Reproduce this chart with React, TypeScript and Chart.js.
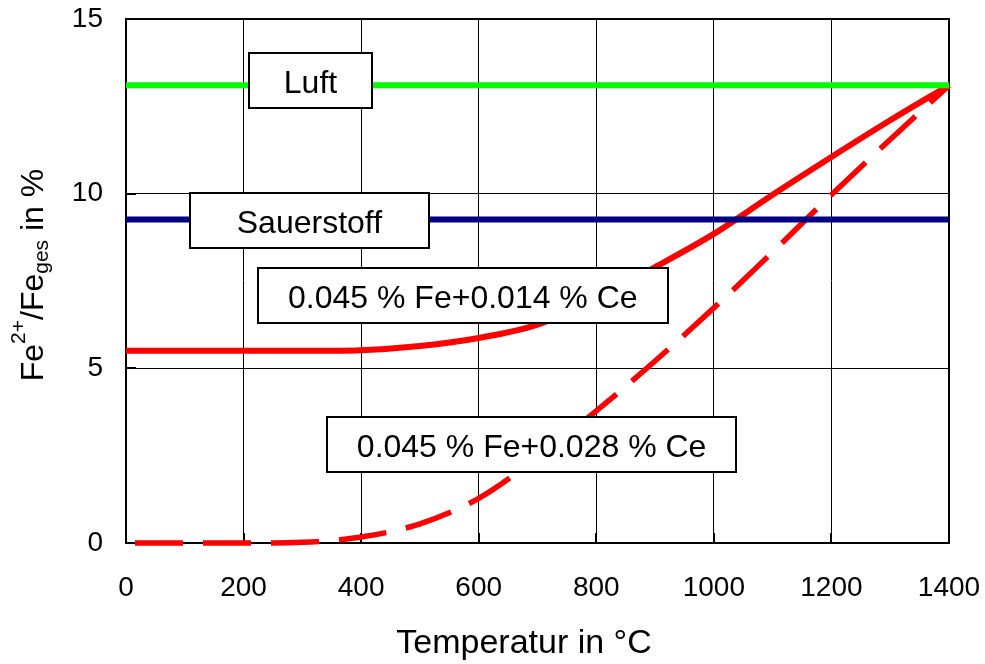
import React, { useEffect, useRef } from "react";
import { Chart, registerables } from "chart.js";

Chart.register(...registerables);

// ---- Data ----
const temperatures = [0, 100, 200, 300, 400, 500, 600, 700, 800, 900, 1000, 1100, 1200, 1300, 1400];
const ce014 = [5.5, 5.5, 5.5, 5.5, 5.52, 5.64, 5.87, 6.25, 7.0, 7.9, 8.85, 9.97, 11.05, 12.1, 13.1];
const ce028 = [0, 0, 0, 0.02, 0.17, 0.55, 1.28, 2.45, 3.78, 5.21, 6.73, 8.33, 9.97, 11.55, 13.1];
const luftTemps = [0, 1400];
const luftValues = [13.1, 13.1];
const sauerstoffTemps = [0, 1400];
const sauerstoffValues = [9.26, 9.26];
const xTickLabels = ["0", "200", "400", "600", "800", "1000", "1200", "1400"];
const yTickLabels = ["0", "5", "10", "15"];
const boxTexts = ["Luft", "Sauerstoff", "0.045 % Fe+0.014 % Ce", "0.045 % Fe+0.028 % Ce"];
const xTitle = "Temperatur in °C";

const FONT = "'Liberation Sans', Arial, Helvetica, sans-serif";

// Box placement (centre in data coordinates, size in px)
const boxLayout = [
  { t: 313.8, v: 13.25, w: 123, h: 55 },
  { t: 312, v: 9.24, w: 239, h: 55 },
  { t: 573, v: 7.09, w: 410, h: 55 },
  { t: 690, v: 2.83, w: 409, h: 55 },
];

const toPts = (xs: number[], ys: number[]) => xs.map((x, i) => ({ x, y: ys[i] }));

const overlay = {
  id: "overlay",
  beforeDatasetsDraw(chart: any) {
    const { ctx, chartArea: a, scales } = chart;
    ctx.save();
    ctx.strokeStyle = "#000";
    ctx.lineWidth = 2;
    ctx.beginPath();
    ctx.moveTo(a.left, a.top);
    ctx.lineTo(a.right, a.top);
    ctx.lineTo(a.right, a.bottom);
    ctx.stroke();
    ctx.beginPath();
    for (const t of scales.x.ticks) {
      const px = Math.round(scales.x.getPixelForValue(t.value));
      ctx.moveTo(px, a.bottom);
      ctx.lineTo(px, a.bottom - 10);
    }
    for (const t of scales.y.ticks) {
      const py = Math.round(scales.y.getPixelForValue(t.value));
      ctx.moveTo(a.left, py);
      ctx.lineTo(a.left + 10, py);
    }
    ctx.stroke();
    ctx.restore();
  },
  afterDraw(chart: any) {
    const { ctx, scales } = chart;
    ctx.save();
    boxLayout.forEach((b, i) => {
      const cx = scales.x.getPixelForValue(b.t);
      const cy = scales.y.getPixelForValue(b.v);
      const x0 = Math.round(cx - b.w / 2);
      const y0 = Math.round(cy - b.h / 2);
      ctx.fillStyle = "#fff";
      ctx.fillRect(x0, y0, b.w, b.h);
      ctx.strokeStyle = "#000";
      ctx.lineWidth = 2;
      ctx.strokeRect(x0, y0, b.w, b.h);
      ctx.fillStyle = "#000";
      ctx.font = `32px ${FONT}`;
      ctx.textAlign = "center";
      ctx.textBaseline = "alphabetic";
      ctx.fillText(boxTexts[i], cx, cy + (0.716 * 32) / 2 + 1);
    });

    ctx.fillStyle = "#000";
    ctx.font = `34px ${FONT}`;
    ctx.textAlign = "center";
    ctx.textBaseline = "alphabetic";
    ctx.fillText(xTitle, 524, 653);

    const parts = [
      { s: "Fe", size: 32, dy: 0 },
      { s: "2+", size: 21, dy: -18 },
      { s: "/Fe", size: 32, dy: 0 },
      { s: "ges", size: 21, dy: 5 },
      { s: " in %", size: 32, dy: 0 },
    ];
    let total = 0;
    const widths = parts.map((p) => {
      ctx.font = `${p.size}px ${FONT}`;
      const w = ctx.measureText(p.s).width;
      total += w;
      return w;
    });
    ctx.translate(43.3, 275);
    ctx.rotate(-Math.PI / 2);
    ctx.textAlign = "left";
    let x = -total / 2;
    parts.forEach((p, i) => {
      ctx.font = `${p.size}px ${FONT}`;
      ctx.fillText(p.s, x, p.dy);
      x += widths[i];
    });
    ctx.restore();
  },
};

export default function App() {
  const ref = useRef<HTMLCanvasElement>(null);

  useEffect(() => {
    if (!ref.current) return;
    const chart = new Chart(ref.current, {
      type: "line",
      data: {
        datasets: [
          {
            label: "Luft",
            data: toPts(luftTemps, luftValues),
            borderColor: "#00FF00",
            borderWidth: 6,
            pointRadius: 0,
            clip: false,
          },
          {
            label: "Sauerstoff",
            data: toPts(sauerstoffTemps, sauerstoffValues),
            borderColor: "#000080",
            borderWidth: 6,
            pointRadius: 0,
            clip: false,
          },
          {
            label: "0.045 % Fe+0.014 % Ce",
            data: toPts(temperatures, ce014),
            borderColor: "#FF0000",
            borderWidth: 6,
            pointRadius: 0,
            cubicInterpolationMode: "monotone",
            clip: false,
          },
          {
            label: "0.045 % Fe+0.028 % Ce",
            data: toPts(temperatures, ce028),
            borderColor: "#FF0000",
            borderWidth: 5.5,
            borderDash: [48, 20],
            borderDashOffset: 59,
            borderCapStyle: "butt",
            pointRadius: 0,
            cubicInterpolationMode: "monotone",
            clip: false,
          },
        ] as any,
      },
      options: {
        responsive: false,
        animation: false,
        devicePixelRatio: 1,
        layout: { padding: { top: 19, right: 36, left: 0, bottom: 0 } },
        plugins: { legend: { display: false }, tooltip: { enabled: false } },
        scales: {
          x: {
            type: "linear",
            min: 0,
            max: 1400,
            afterFit: (s: any) => {
              s.height = 121;
              s.paddingLeft = 0;
              s.paddingRight = 0;
            },
            grid: { color: "#000", lineWidth: 1, drawTicks: false },
            border: { color: "#000", width: 2 },
            ticks: {
              stepSize: 200,
              color: "#000",
              font: { family: FONT, size: 28 },
              padding: 28,
              maxRotation: 0,
              autoSkip: false,
              callback: (_v: any, i: number) => xTickLabels[i],
            },
          },
          y: {
            type: "linear",
            min: 0,
            max: 15,
            afterFit: (s: any) => {
              s.width = 126;
              s.paddingTop = 0;
              s.paddingBottom = 0;
            },
            grid: { color: "#000", lineWidth: 1, drawTicks: false },
            border: { color: "#000", width: 2 },
            ticks: {
              stepSize: 5,
              color: "#000",
              font: { family: FONT, size: 28 },
              padding: 23,
              callback: (_v: any, i: number) => yTickLabels[i],
            },
          },
        },
      } as any,
      plugins: [overlay],
    });
    return () => chart.destroy();
  }, []);

  return (
    <div style={{ position: "fixed", left: 0, top: 0, width: 985, height: 664, background: "#fff" }}>
      <canvas ref={ref} width={985} height={664} style={{ display: "block" }} />
    </div>
  );
}
